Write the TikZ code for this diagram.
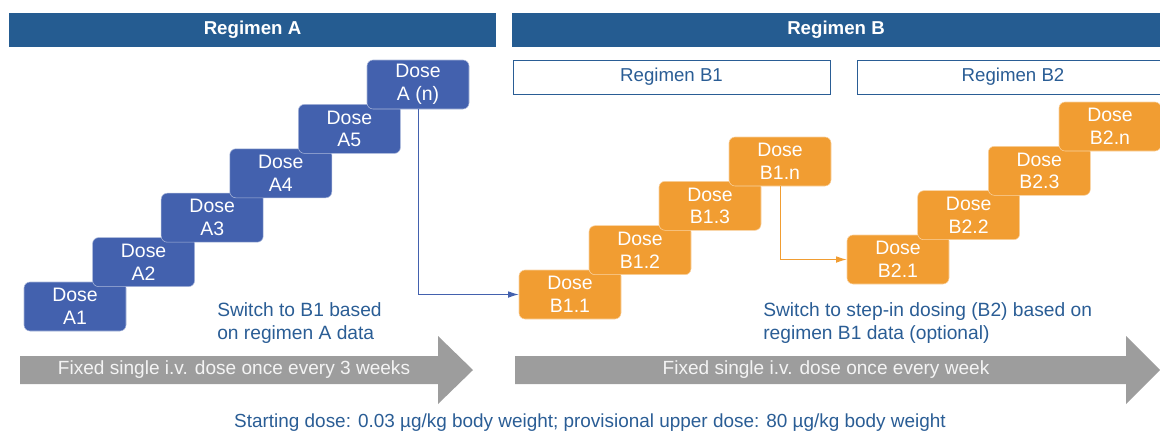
\documentclass[tikz,border=0pt]{standalone}
\usepackage{fontspec}
\setmainfont{Liberation Sans}
\usetikzlibrary{arrows.meta}
\definecolor{headblue}{HTML}{255C91}
\definecolor{doseblue}{HTML}{4361AE}
\definecolor{doseorange}{HTML}{F19D32}
\definecolor{textblue}{HTML}{2A5D95}
\definecolor{arrowgray}{HTML}{9D9D9D}
\definecolor{arrowtext}{HTML}{F4F4F4}
\begin{document}
\begin{tikzpicture}[x=0.75pt,y=-0.75pt,
    header/.style={fill=headblue,text=white,font=\fontsize{14}{17}\selectfont\bfseries,
        minimum height=25.5pt,inner sep=0pt},
    subheader/.style={draw=textblue,line width=0.75pt,fill=white,text=textblue,
        font=\fontsize{14}{17}\selectfont,minimum height=25.5pt,inner sep=0pt},
    dose/.style={rounded corners=4.5pt,text=white,align=center,
        minimum width=76.5pt,minimum height=36.75pt,inner sep=0pt,line width=0.4pt,
        font=\fontsize{14.6}{17}\selectfont},
    doseA/.style={dose,fill=doseblue,draw=white!55!doseblue},
    doseB/.style={dose,fill=doseorange,draw=white!55!doseorange},
    note/.style={text=textblue,align=left,anchor=north west,inner sep=0pt,
        font=\fontsize{14.4}{17.25}\selectfont},
    bartext/.style={text=arrowtext,inner sep=0pt,font=\fontsize{14.3}{17}\selectfont},
    switch/.style={-{Latex[length=8pt,width=5pt]},line width=0.75pt}]
    \useasboundingbox (0,0) rectangle (1160,433);

    % headers
    \node[header,minimum width=365.25pt] (hA) at (252.5,30) {Regimen A};
    \node[header,minimum width=486pt] (hB) at (836,30) {Regimen B};
    \node[subheader,minimum width=237.75pt] (hB1) at (671.5,77) {Regimen B1};
    \node[subheader,minimum width=234pt] (hB2) at (1013,77) {Regimen B2};

    % regimen A
    \node[doseA] (a1) at (75,306.5) {Dose\\A1};
    \node[doseA] (a2) at (143.6,262.1) {Dose\\A2};
    \node[doseA] (a3) at (212.2,217.7) {Dose\\A3};
    \node[doseA] (a4) at (280.8,173.3) {Dose\\A4};
    \node[doseA] (a5) at (349.4,128.9) {Dose\\A5};
    \node[doseA] (an) at (418,84.5) {Dose\\A (n)};

    % regimen B1
    \node[doseB] (b11) at (570,294.5) {Dose\\B1.1};
    \node[doseB] (b12) at (640,250.2) {Dose\\B1.2};
    \node[doseB] (b13) at (710,205.8) {Dose\\B1.3};
    \node[doseB] (b1n) at (780,161.5) {Dose\\B1.n};

    % regimen B2
    \node[doseB] (b21) at (898,259.5) {Dose\\B2.1};
    \node[doseB] (b22) at (968.7,215.2) {Dose\\B2.2};
    \node[doseB] (b23) at (1039.3,170.8) {Dose\\B2.3};
    \node[doseB] (b2n) at (1110,126.5) {Dose\\B2.n};

    \draw[switch,doseblue] (an.south) |- (b11.west);
    \draw[switch,doseorange] (b1n.south) |- (b21.west);

    \node[note] (noteA) at (217,302) {Switch to B1 based\\on regimen A data};
    \node[note] (noteB) at (763,302) {Switch to step-in dosing (B2) based on\\regimen B1 data (optional)};

    % schedule arrows
    \fill[arrowgray] (20,356) -- (438,356) -- (438,336) -- (473,370) -- (438,404)
        -- (438,384) -- (20,384) -- cycle;
    \fill[arrowgray] (515,356) -- (1126,356) -- (1126,336) -- (1160,370) -- (1126,404)
        -- (1126,384) -- (515,384) -- cycle;
    \node[bartext] (barA) at (234,370) {Fixed single i.v. dose once every 3 weeks};
    \node[bartext] (barB) at (826,370) {Fixed single i.v. dose once every week};

    \node[text=textblue,font=\fontsize{14.2}{17}\selectfont,inner sep=0pt] (range) at (590,423)
        {Starting dose: 0.03 µg/kg body weight; provisional upper dose: 80 µg/kg body weight};
\end{tikzpicture}
\end{document}
